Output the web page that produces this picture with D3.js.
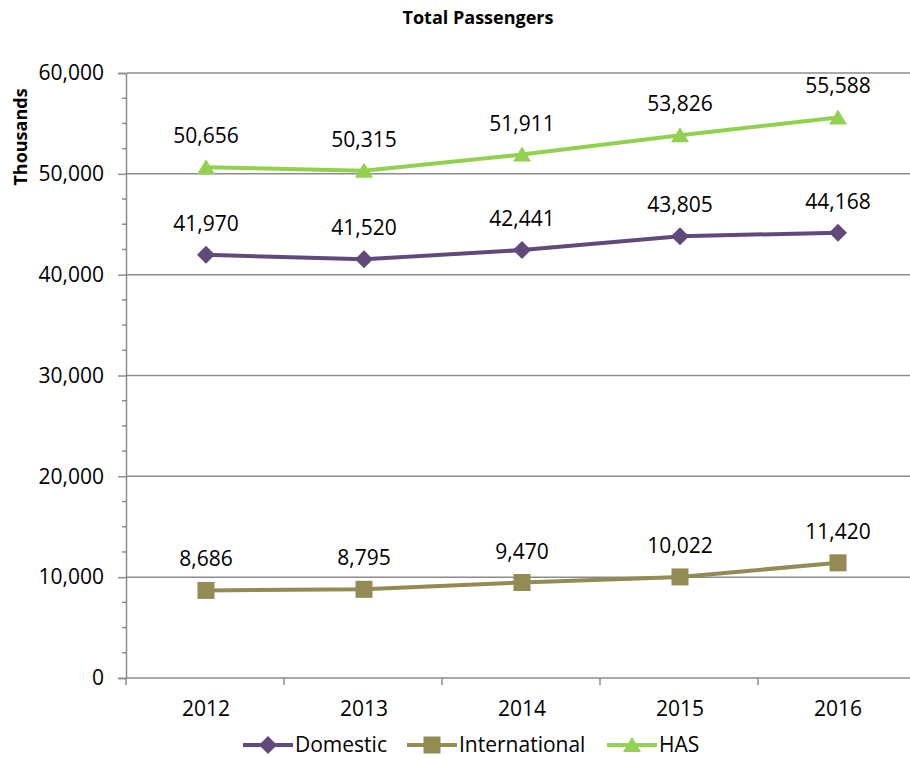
<!DOCTYPE html>
<html><head><meta charset="utf-8">
<script src="https://cdn.jsdelivr.net/npm/d3@7"></script>
<style>
body{margin:0;background:#fff;}
svg{display:block;font-family:"Open Sans",sans-serif;}
</style></head>
<body><svg id="c" width="910" height="757"></svg>
<script>
const years = ["2012","2013","2014","2015","2016"];
const domestic = [41970, 41520, 42441, 43805, 44168];
const international = [8686, 8795, 9470, 10022, 11420];
const has = [50656, 50315, 51911, 53826, 55588];
const yTicks = [0, 10000, 20000, 30000, 40000, 50000, 60000];
const seriesNames = ["Domestic", "International", "HAS"];
const seriesColors = ["#604A7B", "#948A54", "#92D050"];
const seriesShapes = ["diamond", "square", "triangle"];
const seriesValues = [domestic, international, has];

(function(){
const svg = d3.select("#c");
const pLeft = 127, pRight = 917, pTop = 73, pBottom = 678;
const x = d3.scaleBand().domain(years).range([pLeft, pRight]);
const y = d3.scaleLinear().domain([0, 60000]).range([pBottom, pTop]);
const fmt = d3.format(",");
const FS = 21;

// gridlines
svg.append("g").selectAll("line").data(yTicks.filter(d => d > 0)).join("line")
  .attr("x1", pLeft).attr("x2", 910).attr("y1", d => y(d)).attr("y2", d => y(d))
  .attr("stroke", "#8c8c8c").attr("stroke-width", 1.5);

// y axis
const yAxis = svg.append("g").attr("transform", `translate(${pLeft - 1},0)`)
  .call(d3.axisLeft(y).tickValues(yTicks).tickFormat(fmt).tickSize(8).tickPadding(14));
yAxis.select(".domain").attr("stroke", "#8c8c8c").attr("stroke-width", 1.5);
yAxis.selectAll(".tick line").attr("stroke", "#8c8c8c").attr("stroke-width", 1.5);
yAxis.selectAll("text").attr("font-size", FS).attr("fill", "#000").attr("font-family", "Open Sans");
// minor ticks
const minor = d3.range(0, 60001, 2500).filter(v => v % 10000 !== 0);
svg.append("g").selectAll("line").data(minor).join("line")
  .attr("x1", pLeft - 5).attr("x2", pLeft - 1).attr("y1", d => y(d)).attr("y2", d => y(d))
  .attr("stroke", "#8c8c8c").attr("stroke-width", 1.5);

// x axis
svg.append("line").attr("x1", pLeft - 1).attr("x2", 910).attr("y1", pBottom).attr("y2", pBottom)
  .attr("stroke", "#8c8c8c").attr("stroke-width", 1.5);
const bounds = years.map(d => x(d)).concat([x(years[years.length-1]) + x.bandwidth()]);
svg.append("g").selectAll("line").data(bounds).join("line")
  .attr("x1", d => d - 1).attr("x2", d => d - 1).attr("y1", pBottom).attr("y2", pBottom + 7)
  .attr("stroke", "#8c8c8c").attr("stroke-width", 1.5);
svg.append("g").selectAll("text").data(years).join("text")
  .attr("x", d => x(d) + x.bandwidth() / 2).attr("y", pBottom + 38)
  .attr("text-anchor", "middle").attr("font-size", FS).text(d => d);

// title
svg.append("text").attr("x", 478).attr("y", 24).attr("text-anchor", "middle")
  .attr("font-size", 18).attr("font-weight", "bold").text("Total Passengers");
svg.append("text").attr("transform", "translate(27,137) rotate(-90)").attr("text-anchor", "middle")
  .attr("font-size", 18).attr("font-weight", "bold").text("Thousands");

function marker(g, shape, color) {
  if (shape === "diamond") {
    g.append("path").attr("d", "M0,-9L9,0L0,9L-9,0Z").attr("fill", color);
  } else if (shape === "square") {
    g.append("rect").attr("x", -8.5).attr("y", -8.5).attr("width", 17).attr("height", 17).attr("fill", color);
  } else {
    g.append("path").attr("d", "M0,-8L9,7L-9,7Z").attr("fill", color);
  }
}

const line = d3.line().x((d, i) => x(years[i]) + x.bandwidth() / 2).y(d => y(d));
seriesValues.forEach((vals, s) => {
  const g = svg.append("g");
  g.append("path").datum(vals).attr("d", line).attr("fill", "none")
    .attr("stroke", seriesColors[s]).attr("stroke-width", 4).attr("stroke-linejoin", "round");
  vals.forEach((v, i) => {
    const m = g.append("g").attr("transform", `translate(${x(years[i]) + x.bandwidth() / 2},${y(v)})`);
    marker(m, seriesShapes[s], seriesColors[s]);
  });
  g.selectAll("text").data(vals).join("text")
    .attr("x", (d, i) => x(years[i]) + x.bandwidth() / 2).attr("y", d => y(d) - 24)
    .attr("text-anchor", "middle").attr("font-size", FS).text(d => fmt(d));
});

// legend
const legendX = [243, 407, 607];
seriesNames.forEach((name, s) => {
  const g = svg.append("g").attr("transform", `translate(${legendX[s]},745)`);
  g.append("line").attr("x1", 0).attr("x2", 50).attr("stroke", seriesColors[s]).attr("stroke-width", 4);
  const m = g.append("g").attr("transform", "translate(25,0)");
  marker(m, seriesShapes[s], seriesColors[s]);
  g.append("text").attr("x", 52).attr("y", 7).attr("font-size", FS).text(name);
});
})();
</script></body></html>
